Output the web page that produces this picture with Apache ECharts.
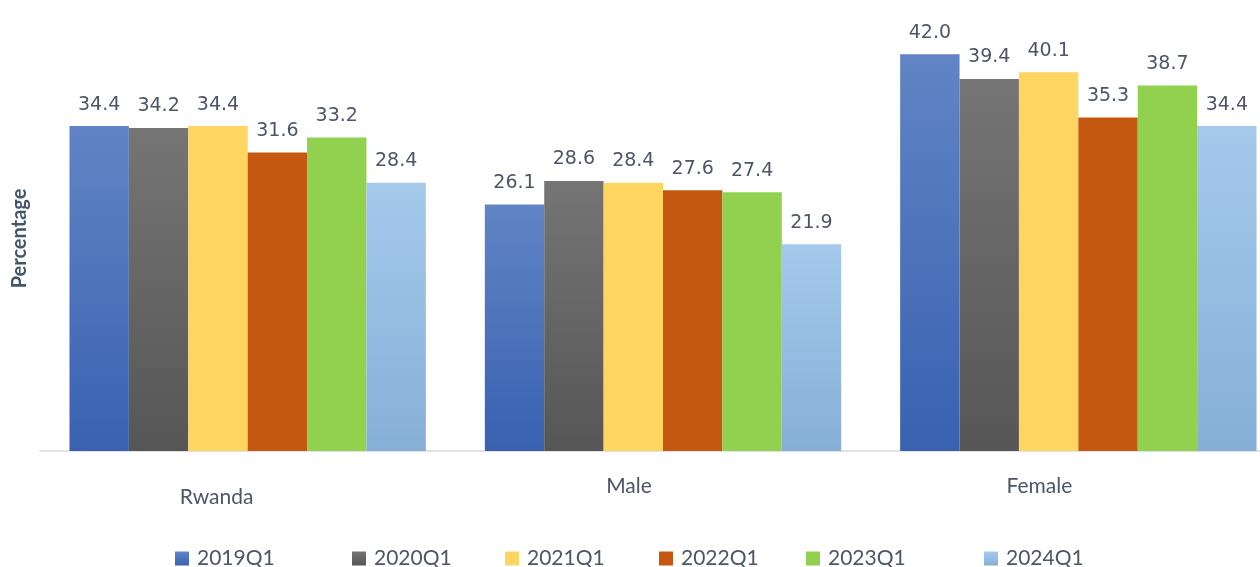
<!DOCTYPE html>
<html>
<head>
<meta charset="utf-8">
<script src="https://cdn.jsdelivr.net/npm/echarts@6/dist/echarts.min.js"></script>
<style>
  html, body { margin: 0; padding: 0; background: #ffffff; }
  #chart { width: 1260px; height: 567px; }
</style>
</head>
<body>
<div id="chart"></div>
<script>
// Groups along the x axis
const categories = ['Rwanda', 'Male', 'Female'];

// One value per group, per quarter
const periods = ['2019Q1', '2020Q1', '2021Q1', '2022Q1', '2023Q1', '2024Q1'];
const q2019 = [34.4, 26.1, 42.0];
const q2020 = [34.2, 28.6, 39.4];
const q2021 = [34.4, 28.4, 40.1];
const q2022 = [31.6, 27.6, 35.3];
const q2023 = [33.2, 27.4, 38.7];
const q2024 = [28.4, 21.9, 34.4];
const seriesValues = [q2019, q2020, q2021, q2022, q2023, q2024];

function vGrad(top, bottom) {
  return {
    type: 'linear', x: 0, y: 0, x2: 0, y2: 1,
    colorStops: [{ offset: 0, color: top }, { offset: 1, color: bottom }]
  };
}

const fills = [
  vGrad('#6184c5', '#3961b0'),
  vGrad('#757575', '#565656'),
  '#fed561',
  '#c45811',
  '#92d050',
  vGrad('#a5c9eb', '#86afd8')
];

const textColor = '#4c5667';
const legendLefts = [175, 352, 505, 659, 806, 984];

const chart = echarts.init(document.getElementById('chart'), null, { renderer: 'canvas' });

const option = {
  animation: false,
  backgroundColor: '#ffffff',
  grid: {
    left: 40, top: 26, width: 1246, height: 425,
    containLabel: false,
    outerBoundsMode: 'none'
  },
  legend: periods.map((p, i) => ({
    data: [p],
    left: legendLefts[i],
    top: 548,
    padding: 0,
    itemWidth: 14,
    itemHeight: 14,
    icon: 'rect',
    selectedMode: false,
    textStyle: {
      fontFamily: 'Lato',
      fontSize: 21,
      color: textColor,
      padding: [0, 0, 0, 3]
    }
  })),
  xAxis: {
    type: 'category',
    data: categories,
    axisLine: { show: true, lineStyle: { color: '#d9d9d9', width: 1.5 } },
    axisTick: { show: false },
    axisLabel: {
      margin: 25,
      interval: 0,
      formatter: function (v) {
        if (v === 'Rwanda') return '{r|' + v + '}';
        if (v === 'Male') return '{m|' + v + '}';
        return '{f|' + v + '}';
      },
      rich: {
        r: { fontFamily: 'Lato', fontSize: 21, color: textColor, padding: [11, 62, 0, 0] },
        m: { fontFamily: 'Lato', fontSize: 21, color: textColor, padding: [0, 68, 0, 0] },
        f: { fontFamily: 'Lato', fontSize: 21, color: textColor, padding: [0, 78, 0, 0] }
      }
    }
  },
  yAxis: {
    type: 'value',
    min: 0,
    max: 45,
    interval: 5,
    axisLine: { show: false },
    axisTick: { show: false },
    axisLabel: { show: false },
    splitLine: { show: false },
    name: 'Percentage',
    nameLocation: 'middle',
    nameRotate: 90,
    nameGap: 10,
    nameTextStyle: {
      fontFamily: 'Lato',
      fontSize: 20,
      fontWeight: 'bold',
      color: '#44546a'
    }
  },
  series: periods.map((p, i) => ({
    name: p,
    type: 'bar',
    data: seriesValues[i],
    barGap: '0%',
    barCategoryGap: '14.2%',
    itemStyle: { color: fills[i] },
    label: {
      show: true,
      position: 'top',
      distance: 12,
      formatter: (d) => d.value.toFixed(1),
      fontFamily: 'DejaVu Sans',
      fontSize: 19,
      color: textColor
    }
  }))
};

chart.setOption(option);
</script>
</body>
</html>
